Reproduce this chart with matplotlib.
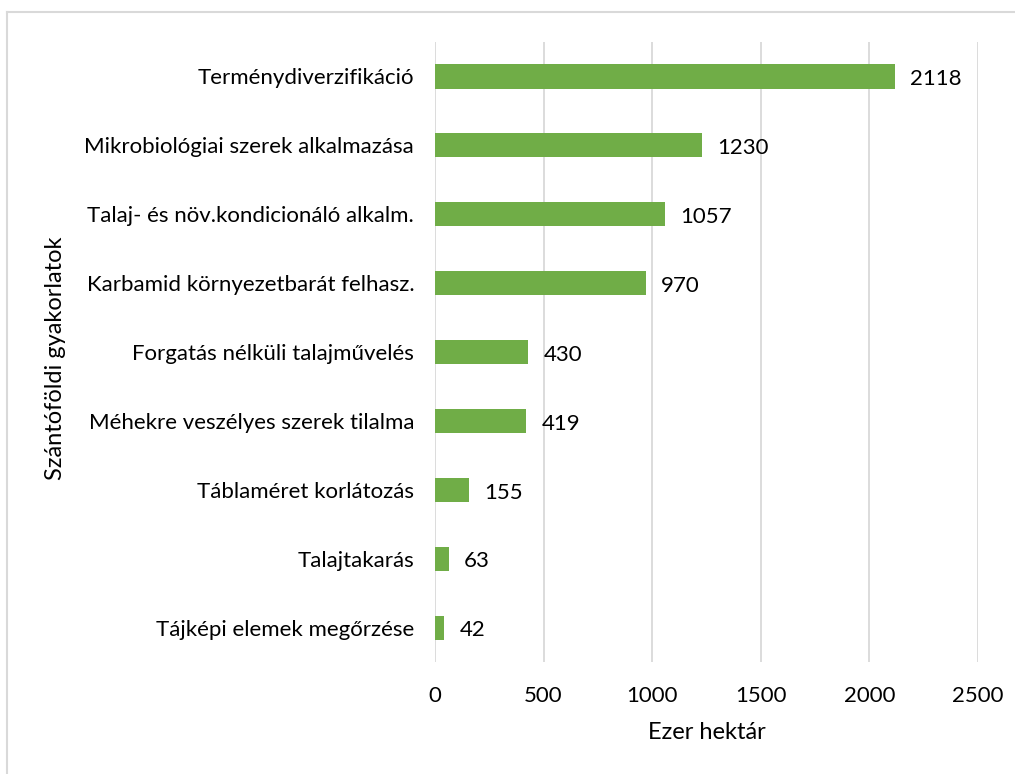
import matplotlib
matplotlib.use("Agg")
import matplotlib.pyplot as plt
from matplotlib.lines import Line2D

categories = [
    "Terménydiverzifikáció",
    "Mikrobiológiai szerek alkalmazása",
    "Talaj- és növ.kondicionáló alkalm.",
    "Karbamid környezetbarát felhasz.",
    "Forgatás nélküli talajművelés",
    "Méhekre veszélyes szerek tilalma",
    "Táblaméret korlátozás",
    "Talajtakarás",
    "Tájképi elemek megőrzése",
]
values = [2118, 1230, 1057, 970, 430, 419, 155, 63, 42]
xticks = [0, 500, 1000, 1500, 2000, 2500]
xlabel = "Ezer hektár"
ylabel = "Szántóföldi gyakorlatok"

plt.rcParams['font.family'] = ['Lato', 'DejaVu Sans']

fig = plt.figure(figsize=(10.15, 7.74), dpi=100)
ax = fig.add_axes([435/1015, 1-662/774, (978-435)/1015, (662-42)/774])

y = list(range(len(categories)))
ax.barh(y, values, height=0.35, color="#70ad47", zorder=3)
ax.set_ylim(len(categories)-0.5, -0.5)
ax.set_xlim(0, 2500)
ax.set_xticks(xticks)
ax.set_xticklabels([str(t) for t in xticks], fontsize=16)
ax.set_yticks(y)
ax.set_yticklabels(categories, fontsize=16)
ax.tick_params(axis='y', length=0, pad=15)
ax.tick_params(axis='x', length=0, pad=17)
ax.grid(axis='x', color="#d9d9d9", linewidth=1.3, zorder=0)
for s in ax.spines.values():
    s.set_visible(False)

for yi, v in zip(y, values):
    ax.annotate(str(v), (v, yi), xytext=(11, -2), textcoords='offset points',
                va='center', ha='left', fontsize=16)

ax.set_xlabel(xlabel, fontsize=17, labelpad=12)
ax.set_ylabel(ylabel, fontsize=17)
ax.yaxis.set_label_coords(-0.68, 0.49)

# chart-area border (top and left visible)
fig.add_artist(Line2D([7/1015, 7/1015], [0, 1-12/774], transform=fig.transFigure,
                      color="#d9d9d9", linewidth=1.5))
fig.add_artist(Line2D([7/1015, 1014/1015], [1-12/774, 1-12/774], transform=fig.transFigure,
                      color="#d9d9d9", linewidth=1.5))

fig.savefig("out.png", dpi=100)
